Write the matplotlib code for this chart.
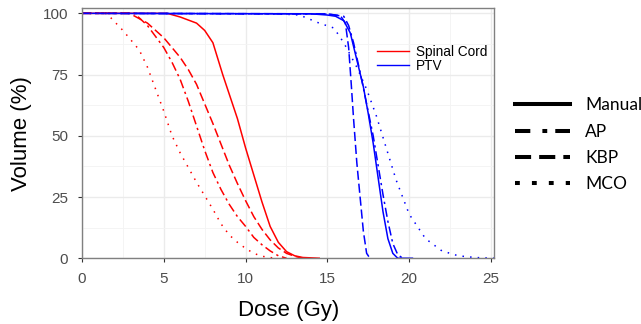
import matplotlib
matplotlib.use("Agg")
from matplotlib import pyplot as plt
from matplotlib.lines import Line2D
from matplotlib.ticker import MultipleLocator

# Spinal cord DVH curves (dose Gy, volume %)
cord_manual_x = [0, 5.2, 6.0, 7.0, 7.5, 8.0, 8.6, 9.0, 9.5, 10.0, 10.5, 11.0, 11.5, 12.0, 12.5, 13.0, 13.5, 14.5]
cord_manual_y = [100, 100, 98.5, 96, 93, 88, 75, 67, 57, 45, 34, 23, 13, 6.5, 2.7, 1.0, 0.3, 0]
cord_ap_x = [0, 3.2, 4.0, 5.0, 5.5, 6.0, 6.5, 7.0, 7.5, 8.0, 8.5, 9.0, 9.5, 10.0, 10.5, 11.0, 11.5, 12.0, 12.5]
cord_ap_y = [100, 100, 95, 86, 80, 73, 64, 54, 44, 35, 28, 22, 17, 13, 8.5, 5.5, 3, 1, 0]
cord_kbp_x = [0, 2.9, 4.0, 5.0, 6.0, 6.5, 7.0, 7.5, 8.0, 8.5, 9.0, 9.5, 10.0, 10.5, 11.0, 11.5, 12.0, 12.5, 13.0, 13.5]
cord_kbp_y = [100, 100, 96, 90, 82, 77, 71, 63, 55, 46.5, 38, 30.5, 23.5, 17, 11.8, 7.5, 4.2, 2, 0.8, 0]
cord_mco_x = [0, 1.5, 2.5, 3.5, 4.0, 4.5, 5.0, 5.5, 6.0, 6.5, 7.0, 7.5, 8.0, 8.5, 9.0, 9.5, 10.0, 10.5, 11.0, 11.8]
cord_mco_y = [100, 100, 93, 85, 78, 69, 60, 50, 43, 37, 31, 25.5, 20, 14, 9.5, 6.5, 4, 2, 0.8, 0]

# PTV DVH curves
ptv_manual_x = [0, 14, 15, 15.5, 16, 16.4, 16.8, 17.2, 17.5, 17.8, 18.1, 18.4, 18.7, 19.0, 19.3, 20.2]
ptv_manual_y = [100, 99.8, 99.3, 98.8, 97, 92, 81, 70, 59, 47, 33, 19, 8, 2, 0, 0]
ptv_ap_x = [0, 15, 16, 16.3, 16.6, 17.0, 17.4, 17.8, 18.1, 18.4, 18.7, 19.0, 19.3, 19.6]
ptv_ap_y = [100, 99.7, 98.8, 95, 88, 76, 63, 50, 38, 26, 15, 6, 1.5, 0]
ptv_kbp_x = [0, 15, 15.8, 16.1, 16.3, 16.45, 16.6, 16.8, 17.0, 17.2, 17.4, 17.6]
ptv_kbp_y = [100, 99.8, 99, 96, 86, 72, 57, 39, 25, 11, 2, 0]
ptv_mco_x = [0, 12.0, 13.3, 14.5, 15.4, 16.0, 16.8, 17.4, 18.0, 18.6, 19.2, 20.0, 21.0, 22.0, 23.0, 24.0, 25.2]
ptv_mco_y = [100, 99.8, 99.3, 96, 94, 88, 78, 69, 58, 45, 32, 18, 8, 3, 1, 0.3, 0]

plans = ["Manual", "AP", "KBP", "MCO"]
styles = {"Manual": "-", "AP": (0, (6, 2.5, 1.5, 2.5)), "KBP": (0, (6, 2.5)), "MCO": (0, (1, 4))}
legend_styles = {"Manual": "-", "AP": (0, (3.8, 3, 1.2, 2)), "KBP": (0, (4, 2)), "MCO": (0, (1.2, 3))}

cord = {"Manual": (cord_manual_x, cord_manual_y), "AP": (cord_ap_x, cord_ap_y),
        "KBP": (cord_kbp_x, cord_kbp_y), "MCO": (cord_mco_x, cord_mco_y)}
ptv = {"Manual": (ptv_manual_x, ptv_manual_y), "AP": (ptv_ap_x, ptv_ap_y),
       "KBP": (ptv_kbp_x, ptv_kbp_y), "MCO": (ptv_mco_x, ptv_mco_y)}

plt.rcParams['font.family'] = ['Liberation Sans', 'DejaVu Sans']

fig = plt.figure(figsize=(6.41, 3.24), dpi=100)
ax = fig.add_axes([0.128, 0.203, 0.643, 0.771])

for p in plans:
    ax.plot(*cord[p], color='#FF0000', lw=1.1, linestyle=styles[p])
    ax.plot(*ptv[p], color='#0000FF', lw=1.1, linestyle=styles[p])

ax.set_xlim(0, 25.2)
ax.set_ylim(0, 102)
ax.xaxis.set_major_locator(MultipleLocator(5))
ax.xaxis.set_minor_locator(MultipleLocator(2.5))
ax.yaxis.set_major_locator(MultipleLocator(25))
ax.yaxis.set_minor_locator(MultipleLocator(12.5))
ax.grid(True, which='major', color='#EBEBEB', lw=1.0, zorder=0)
ax.grid(True, which='minor', color='#F3F3F3', lw=0.6, zorder=0)
ax.set_axisbelow(True)
ax.tick_params(which='major', length=3, color='#333333', labelcolor='#4D4D4D', labelsize=11, pad=7)
ax.tick_params(which='minor', length=0)
for s in ax.spines.values():
    s.set_color('#808080')
    s.set_linewidth(1.0)

ax.set_xlabel('Dose (Gy)', fontsize=16, labelpad=10)
ax.set_ylabel('Volume (%)', fontsize=16, labelpad=8)

struct_handles = [Line2D([], [], color='#FF0000', lw=1.0), Line2D([], [], color='#0000FF', lw=1.0)]
ax.legend(struct_handles, ['Spinal Cord', 'PTV'], loc='upper left', bbox_to_anchor=(0.715, 0.855),
          frameon=False, fontsize=9.8, handlelength=2.4, handletextpad=0.5, labelspacing=0.0,
          borderaxespad=0, borderpad=0)

plan_handles = [Line2D([], [], color='black', lw=2.9, linestyle=legend_styles[p]) for p in plans]
fig.legend(plan_handles, plans, loc='upper left', bbox_to_anchor=(0.803, 0.70),
           frameon=False, prop={'family': 'Lato', 'size': 12.5}, handlelength=3.2,
           handletextpad=0.85, labelspacing=0.6, borderpad=0, borderaxespad=0)

fig.savefig('out.png', dpi=100)
